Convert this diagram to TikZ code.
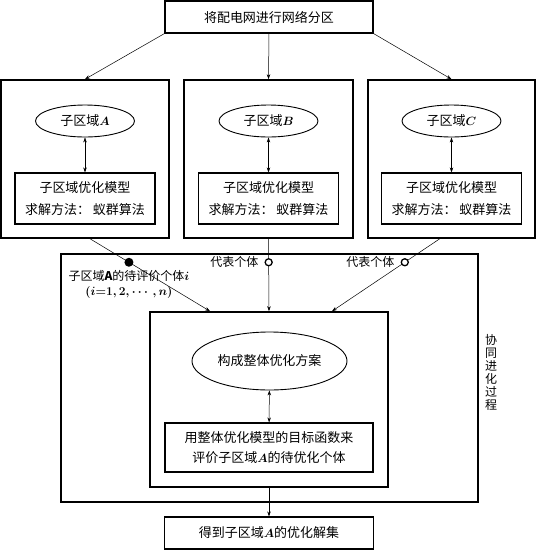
\documentclass[tikz,border=0pt]{standalone}
\usepackage{amsmath}
\usepackage{fontspec}
\setmainfont{Noto Sans CJK SC}
\usepackage{tikz}
\usetikzlibrary{calc,positioning,arrows.meta,shapes.geometric}

\begin{document}
\begin{tikzpicture}[x=1pt,y=-1pt,font=\fontsize{13}{20}\selectfont,
  frame/.style={draw,line width=1.6pt,inner sep=0pt},
  box/.style={draw,line width=1.1pt,align=center,inner sep=0pt},
  oval/.style={draw,ellipse,line width=0.9pt,inner sep=0pt},
  link/.style={line width=0.5pt,-{Stealth[length=5pt,width=3.5pt]}},
  both/.style={line width=0.5pt,{Stealth[length=5pt,width=3.5pt]}-{Stealth[length=5pt,width=3.5pt]}},
  dot/.style={circle,fill,inner sep=0pt,minimum size=9pt},
  ring/.style={circle,draw,line width=1.3pt,fill=white,inner sep=0pt,minimum size=7pt},
  tag/.style={font=\fontsize{12}{15}\selectfont,inner sep=1pt}]
  \useasboundingbox (0,0) rectangle (538,550);
  % partition and the three sub-regions
  \node[box,minimum width=208pt,minimum height=32pt] (top) at (269,17) {将配电网进行网络分区};
  \node[frame,minimum width=168pt,minimum height=158pt] (fA) at (85,159) {};
  \node[frame,minimum width=169pt,minimum height=158pt] (fB) at (268.5,159) {};
  \node[frame,minimum width=167pt,minimum height=158pt] (fC) at (451.5,159) {};
  \node[oval,minimum width=99pt,minimum height=32pt] (eA) at (85,121) {子区域$\boldsymbol{A}$};
  \node[oval,minimum width=99pt,minimum height=32pt] (eB) at (268.5,121) {子区域$\boldsymbol{B}$};
  \node[oval,minimum width=99pt,minimum height=32pt] (eC) at (451.5,121) {子区域$\boldsymbol{C}$};
  \node[box,minimum width=140pt,minimum height=51pt] (mA) at (85,198.5) {子区域优化模型\\[2pt]求解方法：\ 蚁群算法};
  \node[box,minimum width=140pt,minimum height=51pt] (mB) at (268.5,198.5) {子区域优化模型\\[2pt]求解方法：\ 蚁群算法};
  \node[box,minimum width=140pt,minimum height=51pt] (mC) at (451.5,198.5) {子区域优化模型\\[2pt]求解方法：\ 蚁群算法};
  \draw[link] (top.south west) -- (fA.north); \draw[link] (top.south) -- (fB.north); \draw[link] (top.south east) -- (fC.north);
  \draw[both] (eA) -- (mA); \draw[both] (eB) -- (mB); \draw[both] (eC) -- (mC);
  % co-evolution
  \node[frame,minimum width=417pt,minimum height=248pt] (co) at (269.5,378) {};
  \node[font=\fontsize{12}{13}\selectfont,align=center,inner sep=0pt] (lbl) at (491,372) {协\\同\\进\\化\\过\\程};
  \node[frame,minimum width=238pt,minimum height=175pt] (in) at (269,399.5) {};
  \node[oval,minimum width=155pt,minimum height=58pt] (eW) at (269.5,361) {构成整体优化方案};
  \node[box,minimum width=208pt,minimum height=49pt] (mW) at (269,447.5) {用整体优化模型的目标函数来\\评价子区域$\boldsymbol{A}$的待优化个体};
  \node[box,minimum width=209pt,minimum height=32pt] (res) at (269,533) {得到子区域$\boldsymbol{A}$的优化解集};
  \draw[both] (eW) -- (mW);
  \draw[link] (in.south) -- (res.north);
  % individuals passed in
  \coordinate (sA) at ($(fA.south west)!0.53!(fA.south east)$);
  \coordinate (sC) at ($(fC.south west)!0.43!(fC.south east)$);
  \draw[link] (sA) -- coordinate[pos=0.324] (dA) ($(in.north)+(-59,0)$);
  \draw[link] (fB.south) -- coordinate[pos=0.324] (dB) (in.north);
  \draw[link] (sC) -- coordinate[pos=0.324] (dC) ($(in.north)+(63,0)$);
  \node[dot] (pA) at (dA) {}; \node[ring] (pB) at (dB) {}; \node[ring] (pC) at (dC) {};
  \node[tag,below=2pt of pA,align=center] (tA) {子区域$\mathbf{A}$的待评价个体$\boldsymbol{i}$\\{\boldmath$(i{=}1,2,\cdots,n)$}};
  \node[tag,left=5pt of pB] (tB) {代表个体};
  \node[tag,left=5pt of pC] (tC) {代表个体};
\end{tikzpicture}
\end{document}
